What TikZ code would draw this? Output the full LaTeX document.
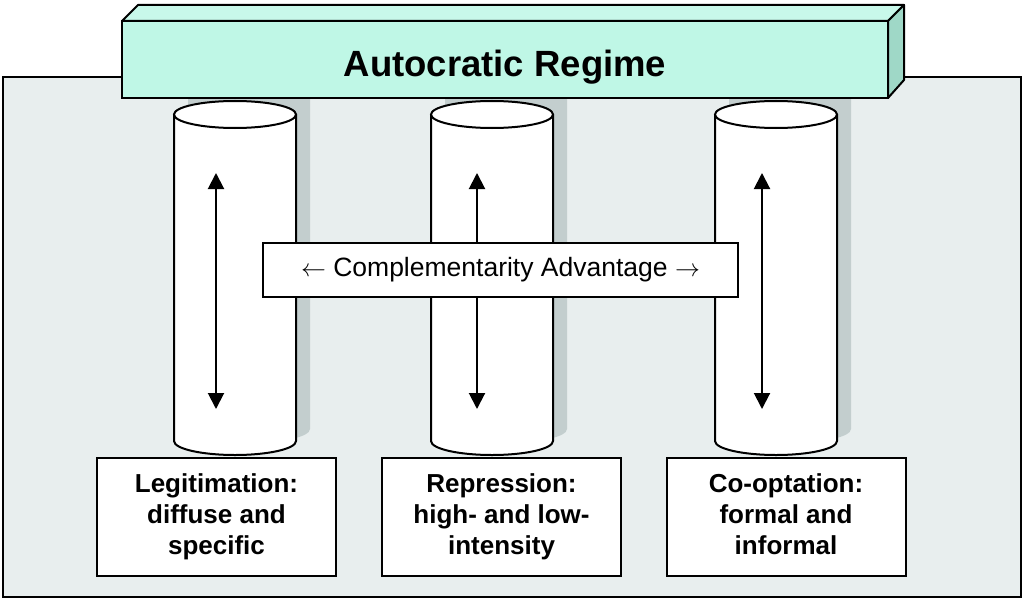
\documentclass[tikz,border=0pt]{standalone}
\usepackage{fontspec}
\setmainfont{Liberation Sans}
\usetikzlibrary{arrows.meta}
\definecolor{panelgray}{HTML}{E8EEEE}
\definecolor{shadegray}{HTML}{C3CECE}
\definecolor{bannerfront}{HTML}{BFF7E6}
\definecolor{bannertop}{HTML}{C8F8EA}
\definecolor{bannerside}{HTML}{9FD8C7}
\begin{document}
\begin{tikzpicture}[x=1pt, y=-1pt,
        pillar/.style={fill=white, draw=black, line width=2pt},
        updown/.style={<->, >={Triangle[width=16pt, length=16pt]}, line width=2pt},
        banner/.style={draw=black, fill=bannerfront, line width=2pt, inner sep=0pt,
            minimum width=766pt, minimum height=77pt, text height=35pt, text depth=0pt,
            font=\bfseries\fontsize{36.5}{40}\selectfont},
        tag/.style={draw=black, fill=white, line width=2pt, inner sep=0pt, align=center,
            minimum width=239pt, minimum height=118pt,
            font=\bfseries\fontsize{26}{31}\selectfont}]
        \useasboundingbox (0,0) rectangle (1024,599);
        \draw[fill=panelgray, line width=2pt] (3,77) rectangle (1021,597);
        % shadows behind the pillars
        \foreach \c in {235,492,776} {
            \fill[shadegray] (\c-47,90) -- (\c-47,429) arc[start angle=180, end angle=0, x radius=61, y radius=14] -- (\c+75,90) -- cycle;
        }
        % the beam
        \draw[fill=bannertop, line width=2pt, line join=round] (122,21) -- (138,5) -- (904,5) -- (888,21) -- cycle;
        \draw[fill=bannerside, line width=2pt, line join=round] (888,21) -- (904,5) -- (904,80) -- (888,98) -- cycle;
        \node[banner] (regime) at (505,59.5) {Autocratic Regime};
        % pillars
        \foreach \c/\a in {235/216,492/477,776/762} {
            \draw[pillar] (\c-61,114.5) -- (\c-61,441) arc[start angle=180, end angle=0, x radius=61, y radius=14] -- (\c+61,114.5);
            \draw[pillar] (\c,114.5) ellipse [x radius=61, y radius=13.5];
            \coordinate (up\c) at (\a,173);
            \coordinate (down\c) at (\a,409);
            \draw[updown] (up\c) -- (down\c);
        }
        \node[draw=black, fill=white, line width=2pt, inner sep=0pt, minimum width=475pt, minimum height=54pt,
            font=\fontsize{26.5}{30}\selectfont] (advantage) at (500.5,270) {$\leftarrow$ Complementarity Advantage $\rightarrow$};
        \node[tag] (legit) at (216.5,517) {\strut Legitimation:\\diffuse and\\specific\strut};
        \node[tag] (repress) at (501.5,517) {\strut Repression:\\high- and low-\\intensity\strut};
        \node[tag] (coopt) at (786,517) {\strut Co-optation:\\formal and\\informal\strut};
\end{tikzpicture}
\end{document}
